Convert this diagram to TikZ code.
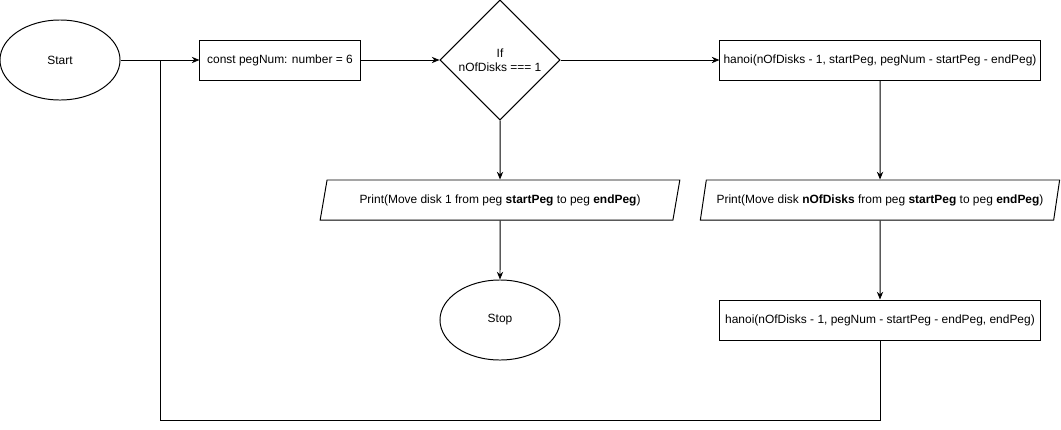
\documentclass[tikz,border=0pt]{standalone}
\usepackage{fontspec}
\setmainfont{Liberation Sans}
\usepackage{tikz}
\usetikzlibrary{arrows.meta,shapes.geometric,positioning}
\tikzstyle{startstop} = [ellipse, draw, inner sep=0pt, minimum width=3cm, minimum height=2cm]
\tikzstyle{process} = [rectangle, draw, inner sep=0pt, minimum height=1cm]
\tikzstyle{decision} = [diamond, draw, inner sep=0pt, minimum width=3cm, minimum height=3cm, align=center]
\tikzstyle{io} = [trapezium, draw, inner sep=0pt, trapezium left angle=63.4, trapezium right angle=116.6, trapezium stretches=true, minimum width=9cm, minimum height=1cm]
\tikzstyle{arrow} = [->,>={Stealth[length=5.5pt,width=4.5pt]}]

\begin{document}
\begin{tikzpicture}[x=0.025cm, y=-0.025cm, line width=0.7pt, font=\fontsize{8.5}{10}\selectfont]
\useasboundingbox (0,0) rectangle (1061,429);

% Main row
\node[startstop] (start) at (60,60) {Start};
\node[process, minimum width=4cm] (pegnum) at (280,60) {const pegNum: number = 6};
\node[decision] (ifone) at (500,60) {If\\nOfDisks === 1};
\node[process, minimum width=8cm] (hanoia) at (880,60) {hanoi(nOfDisks - 1, startPeg, pegNum - startPeg - endPeg)};

% Base case
\node[io] (printone) at (500,200) {Print(Move disk 1 from peg \textbf{startPeg} to peg \textbf{endPeg})};
\node[startstop] (stop) at (500,320) {Stop};

% Recursive case
\node[io] (printn) at (880,200) {Print(Move disk \textbf{nOfDisks} from peg \textbf{startPeg} to peg \textbf{endPeg})};
\node[process, minimum width=8cm] (hanoib) at (880,320) {hanoi(nOfDisks - 1, pegNum - startPeg - endPeg, endPeg)};

% Connectors
\draw[arrow] (start) -- (pegnum);
\draw[arrow] (pegnum) -- (ifone);
\draw[arrow] (ifone) -- (hanoia);
\draw[arrow] (ifone) -- (printone);
\draw[arrow] (printone) -- (stop);
\draw[arrow] (hanoia) -- (printn);
\draw[arrow] (printn) -- (hanoib);

% Loop back
\coordinate (back) at (160,420);
\coordinate (join) at (160,60);
\draw (hanoib.south) |- (back) -- (join);
\end{tikzpicture}
\end{document}
